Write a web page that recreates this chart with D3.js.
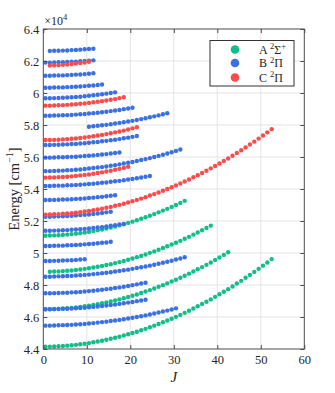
<!DOCTYPE html>
<html>
<head>
<meta charset="utf-8">
<script src="https://cdn.jsdelivr.net/npm/d3@7"></script>
<style>
  body { margin: 0; background: #fff; }
  text { font-family: "Liberation Serif", "DejaVu Serif", serif; fill: #262626; }
</style>
</head>
<body>
<div class="chart"></div>
<script>
var svgWidth = 335;
var svgHeight = 393;

// plot box (pixels)
var plotLeft = 43.3, plotRight = 304.3, plotTop = 29, plotBottom = 349;

// legend
var stateNames = ["A", "B", "C"];
var stateColors = ["#0fbf88", "#3a70e4", "#fd4b4b"];

// energy levels in cm^-1, one array per vibrational row, first point at jStart
var jStartA = [0.5, 0.5, 1.5, 0.5];
var levelsA = [
  [44140,44150,44160,44170,44190,44210,44230,44260,44300,44330,44370,44420,44470,44520,44580,44640,44700,44770,44840,44920,45000,45080,45170,45260,45360,45460,45560,45670,45780,45890,46010,46130,46260,46390,46530,46670,46810,46950,47100,47260,47420,47580,47740,47910,48090,48260,48450,48630,48820,49010,49210,49410,49620],
  [46480,46490,46500,46510,46530,46550,46570,46600,46630,46670,46710,46760,46800,46860,46910,46970,47040,47100,47170,47250,47330,47410,47500,47590,47680,47780,47890,47990,48100,48220,48330,48450,48580,48710,48840,48980,49120,49260,49410,49570,49720,49880,50050],
  [48830,48840,48850,48870,48890,48910,48940,48970,49010,49050,49090,49140,49190,49250,49300,49370,49430,49500,49580,49660,49740,49820,49910,50010,50100,50200,50310,50420,50530,50640,50760,50890,51010,51150,51280,51420,51560,51710],
  [51080,51090,51100,51110,51130,51150,51180,51210,51240,51280,51320,51370,51420,51470,51530,51590,51660,51730,51800,51880,51960,52050,52140,52230,52330,52430,52540,52650,52760,52880,53000,53130,53260]
];

var jStartB = [0.5, 0.5, 0.5, 0.5, 0.5, 0.5, 0.5, 0.5, 0.5, 0.5, 0.5, 0.5, 0.5, 10.5, 0.5, 0.5, 0.5, 0.5, 0.5, 1.5];
var levelsB = [
  [45460,45460,45470,45480,45490,45500,45510,45530,45550,45570,45590,45620,45650,45680,45710,45750,45780,45820,45860,45910,45950,46000,46050,46100,46160,46220,46280,46340,46400,46470,46540],
  [46480,46480,46490,46500,46510,46520,46530,46550,46560,46580,46610,46630,46660,46680,46720,46750,46780,46820,46860,46900,46940,46990,47030,47080],
  [47480,47480,47490,47500,47510,47520,47540,47550,47570,47590,47620,47640,47670,47700,47740,47770,47810,47850,47890,47940,47990,48040,48090,48140],
  [48520,48520,48530,48540,48550,48560,48570,48590,48610,48630,48650,48680,48710,48740,48770,48800,48840,48880,48920,48960,49010,49060,49110,49160,49210,49270,49330,49390,49450,49520,49590,49660,49730],
  [49500,49500,49510,49520,49530,49540,49550,49570,49590,49610],
  [50440,50440,50450,50460,50460,50480,50490,50500,50520,50540,50560,50580,50610,50640,50660,50700],
  [51390,51390,51400,51410,51420,51430,51450,51470,51490,51510,51530,51560,51590,51620,51660,51700,51740,51780,51820],
  [52270,52270,52280,52290,52300,52310,52330,52350,52370,52390,52410,52440,52470,52500,52540,52580],
  [53310,53310,53320,53330,53340,53350,53360,53380,53390,53410,53440,53460,53490,53510,53550,53580,53610],
  [54190,54190,54200,54210,54210,54230,54240,54250,54270,54290,54310,54330,54360,54390,54410,54450,54480,54510,54550,54590,54630,54670,54720,54770,54810],
  [55120,55120,55130,55140,55150,55170,55180,55200,55220,55250,55280,55310,55340,55370,55410,55450,55490,55540,55590,55640,55690,55750,55810,55870,55930,56000,56070,56140,56220,56300,56380,56470],
  [55960,55960,55970,55980,55980,56000,56010,56020,56040,56060,56080,56100,56130,56160,56180,56220,56250,56280],
  [56750,56750,56760,56770,56780,56790,56810,56820,56840,56860,56890,56920,56940,56980,57010,57050,57080,57120,57170,57210,57260,57310],
  [57890,57920,57950,57980,58010,58050,58090,58130,58170,58220,58260,58310,58370,58420,58480,58540,58600,58670,58730],
  [58580,58580,58590,58600,58610,58620,58630,58650,58670,58690,58720,58740,58770,58800,58830,58870,58910,58940,58990,59030,59080],
  [59670,59670,59680,59690,59700,59720,59730,59750,59770,59800,59830,59860,59890,59920,59960,60000,60040],
  [60330,60330,60340,60350,60350,60370,60380,60390,60410,60430,60450,60470,60500,60530],
  [61080,61080,61090,61100,61100,61120,61130,61150,61160,61180,61200,61230],
  [61900,61900,61910,61920,61920,61940,61950,61960,61980,62000,62020,62040],
  [62630,62640,62640,62650,62660,62680,62690,62710,62730,62750,62770]
];

var jStartC = [0.5, 0.5, 0.5, 0.5, 1.5];
var levelsC = [
  [52400,52410,52420,52430,52450,52470,52490,52520,52550,52590,52630,52670,52720,52770,52830,52880,52950,53010,53080,53160,53240,53320,53400,53490,53590,53680,53780,53890,54000,54110,54220,54340,54470,54590,54730,54860,55000,55140,55290,55440,55590,55750,55910,56080,56250,56420,56600,56780,56960,57150,57340,57540,57740],
  [54710,54720,54720,54740,54750,54770,54790,54820,54850,54880,54910,54950,55000,55040,55090,55140,55200,55260,55320,55390],
  [57060,57060,57070,57080,57100,57120,57140,57160,57190,57220,57260,57300,57340,57380,57430,57480,57540,57590,57650,57720,57790,57860],
  [59210,59210,59220,59230,59240,59260,59280,59300,59330,59350,59380,59420,59450,59490,59530,59580,59620,59680,59730],
  [61720,61730,61740,61760,61780,61810,61840,61870,61910,61950]
];

var xTicks = [0, 10, 20, 30, 40, 50, 60];
var yTicks = [44000, 46000, 48000, 50000, 52000, 54000, 56000, 58000, 60000, 62000, 64000];

var svg = d3.select(".chart")
  .append("svg")
  .attr("width", svgWidth)
  .attr("height", svgHeight);

var x = d3.scaleLinear().domain([0, 60]).range([plotLeft, plotRight]);
var y = d3.scaleLinear().domain([44000, 64000]).range([plotBottom, plotTop]);

// grid
svg.append("g").selectAll("line").data(xTicks.slice(1, -1)).enter().append("line")
  .attr("x1", d => x(d)).attr("x2", d => x(d))
  .attr("y1", plotTop).attr("y2", plotBottom)
  .attr("stroke", "#e4e4e4").attr("stroke-width", 1);
svg.append("g").selectAll("line").data(yTicks.slice(1, -1)).enter().append("line")
  .attr("x1", plotLeft).attr("x2", plotRight)
  .attr("y1", d => y(d)).attr("y2", d => y(d))
  .attr("stroke", "#e4e4e4").attr("stroke-width", 1);

// points, one group per state
function flatten(levels, starts) {
  var pts = [];
  levels.forEach(function(row, i) {
    row.forEach(function(e, k) {
      pts.push({ j: starts[i] + k, e: e });
    });
  });
  return pts;
}

var allStates = [flatten(levelsA, jStartA), flatten(levelsB, jStartB), flatten(levelsC, jStartC)];

allStates.forEach(function(pts, s) {
  svg.append("g").selectAll("circle")
    .data(pts)
    .enter()
    .append("circle")
    .attr("cx", d => x(d.j))
    .attr("cy", d => y(d.e))
    .attr("r", 2.2)
    .attr("fill", stateColors[s]);
});

// axes, ticks inside like matlab
var fmt = d3.format(".2~f");
svg.append("g").attr("transform", `translate(0, ${plotBottom})`)
  .call(d3.axisBottom(x).tickValues(xTicks).tickSize(-4).tickPadding(6));
svg.append("g").attr("transform", `translate(${plotLeft}, 0)`)
  .call(d3.axisLeft(y).tickValues(yTicks).tickSize(-4).tickPadding(4).tickFormat(d => fmt(d / 1e4)));
svg.append("g").attr("transform", `translate(0, ${plotTop})`)
  .call(d3.axisTop(x).tickValues(xTicks).tickSize(-4).tickFormat(""));
svg.append("g").attr("transform", `translate(${plotRight}, 0)`)
  .call(d3.axisRight(y).tickValues(yTicks).tickSize(-4).tickFormat(""));

svg.selectAll(".domain").remove();
svg.selectAll(".tick line").attr("stroke", "#4d4d4d");
svg.selectAll(".tick text").attr("font-size", 12.5).attr("font-family", "Liberation Serif").attr("fill", "#262626");

svg.append("rect")
  .attr("x", plotLeft).attr("y", plotTop)
  .attr("width", plotRight - plotLeft).attr("height", plotBottom - plotTop)
  .attr("fill", "none").attr("stroke", "#4d4d4d").attr("stroke-width", 1);

// exponent label
var expo = svg.append("text").attr("x", plotLeft + 1).attr("y", 25).attr("font-size", 12);
expo.append("tspan").text("×10");
expo.append("tspan").attr("font-size", 8.5).attr("dy", -5).text("4");

// axis labels
var ylab = svg.append("text")
  .attr("transform", `translate(19, ${(plotTop + plotBottom) / 2}) rotate(-90)`)
  .attr("text-anchor", "middle")
  .attr("font-size", 14.5);
ylab.append("tspan").text("Energy [cm");
ylab.append("tspan").attr("font-size", 10).attr("dy", -6).text("−1");
ylab.append("tspan").attr("dy", 6).text("]");

svg.append("text")
  .attr("x", (plotLeft + plotRight) / 2)
  .attr("y", 382)
  .attr("text-anchor", "middle")
  .attr("font-size", 15)
  .attr("font-style", "italic")
  .text("J");

// legend
var legend = svg.append("g");
legend.append("rect")
  .attr("x", 210).attr("y", 40.5).attr("width", 84).attr("height", 45.5)
  .attr("fill", "#fff").attr("stroke", "#333").attr("stroke-width", 1);

var legY = [49.5, 63, 77.5];
var legSup = ["Σ", "Π", "Π"];
stateNames.forEach(function(name, i) {
  legend.append("circle")
    .attr("cx", 235).attr("cy", legY[i]).attr("r", 4.3)
    .attr("fill", stateColors[i]);
  var t = legend.append("text")
    .attr("x", 259).attr("y", legY[i] + 4)
    .attr("font-size", 12);
  t.append("tspan").text(name + " ");
  t.append("tspan").attr("font-size", 8.5).attr("dy", -4.5).text("2");
  t.append("tspan").attr("dy", 4.5).text(legSup[i]);
  if (i == 0) {
    t.append("tspan").attr("font-size", 8.5).attr("dy", -4.5).text("+");
  }
});
</script>
</body>
</html>
